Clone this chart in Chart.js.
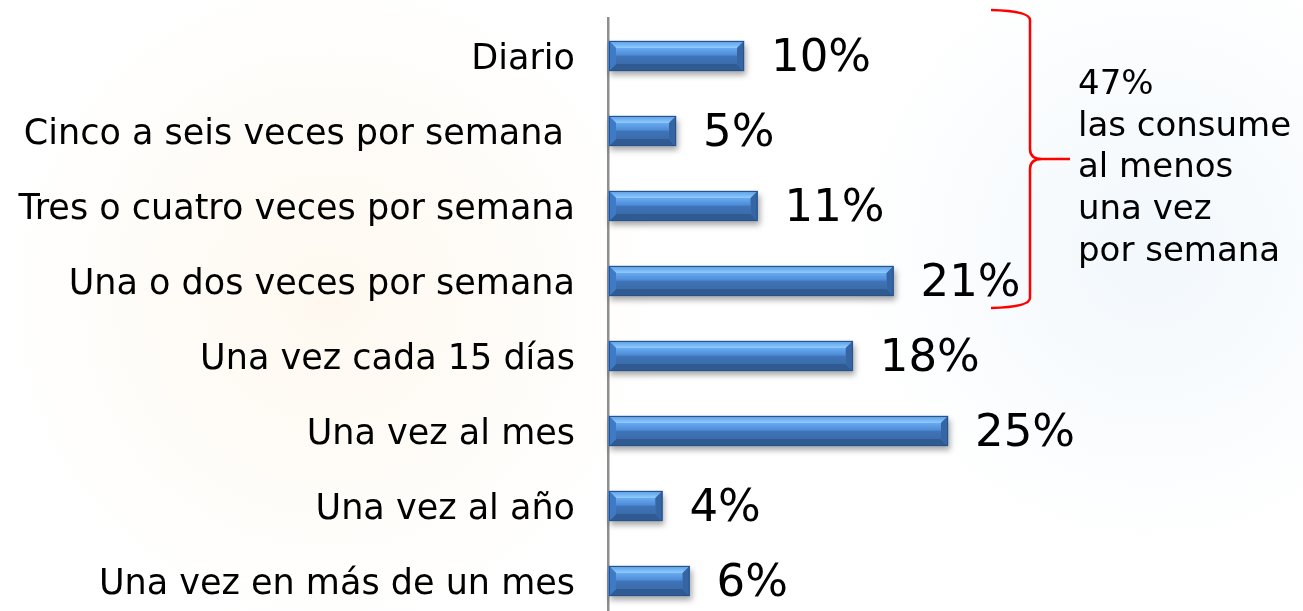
<!DOCTYPE html>
<html lang="es">
<head>
<meta charset="utf-8">
<title>Frecuencia de consumo</title>
<script src="https://cdn.jsdelivr.net/npm/chart.js@4/dist/chart.umd.min.js"></script>
<style>
    html, body { margin: 0; padding: 0; overflow: hidden; }
    body {
        width: 1303px;
        height: 611px;
        background:
            radial-gradient(circle at 330px 300px, rgba(253, 240, 220, 0.45) 0, rgba(253, 240, 220, 0) 330px),
            radial-gradient(circle at 1150px 250px, rgba(225, 238, 248, 0.45) 0, rgba(225, 238, 248, 0) 300px),
            #ffffff;
    }
    #caja { width: 1303px; height: 620px; }
</style>
</head>
<body>
<div id="caja"><canvas id="graficoFrecuencia"></canvas></div>
<script>
// Datos del grafico
const categorias = [
    'Diario',
    'Cinco a seis veces por semana ',
    'Tres o cuatro veces por semana',
    'Una o dos veces por semana',
    'Una vez cada 15 días',
    'Una vez al mes',
    'Una vez al año',
    'Una vez en más de un mes'
];
const porcentajes = [10, 5, 11, 21, 18, 25, 4, 6];
const notaLineas = ['47%', 'las consume', 'al menos', 'una vez', 'por semana'];

const FUENTE = '"DejaVu Sans", Verdana, sans-serif';

// Barras con efecto biselado
const biselBarras = {
    id: 'biselBarras',
    beforeDatasetsDraw(chart) {
        const ctx = chart.ctx;
        chart.getDatasetMeta(0).data.forEach(bar => {
            const p = bar.getProps(['x', 'y', 'base', 'height'], true);
            const t = p.y - p.height / 2;
            ctx.save();
            ctx.shadowColor = 'rgba(0,0,0,0.35)';
            ctx.shadowBlur = 6;
            ctx.shadowOffsetX = 2;
            ctx.shadowOffsetY = 4;
            ctx.fillStyle = '#3a6cb0';
            ctx.fillRect(p.base, t, p.x - p.base, p.height);
            ctx.restore();
        });
    },
    afterDatasetsDraw(chart) {
        const ctx = chart.ctx;
        chart.getDatasetMeta(0).data.forEach((bar, i) => {
            const p = bar.getProps(['x', 'y', 'base', 'height'], true);
            const L = p.base + 1, R = p.x, T = p.y - p.height / 2, B = p.y + p.height / 2;
            const d = 7;
            const poly = (pts, fill) => {
                ctx.beginPath();
                ctx.moveTo(pts[0][0], pts[0][1]);
                for (let k = 1; k < pts.length; k++) ctx.lineTo(pts[k][0], pts[k][1]);
                ctx.closePath();
                ctx.fillStyle = fill;
                ctx.fill();
            };
            ctx.save();
            // cara central
            const gCara = ctx.createLinearGradient(0, T + d, 0, B - d);
            gCara.addColorStop(0, '#68aaf0');
            gCara.addColorStop(0.45, '#4d8bd6');
            gCara.addColorStop(0.5, '#3f74b8');
            gCara.addColorStop(1, '#3b6cab');
            poly([[L + d, T + d], [R - d, T + d], [R - d, B - d], [L + d, B - d]], gCara);
            // bisel superior
            const gSup = ctx.createLinearGradient(0, T, 0, T + d);
            gSup.addColorStop(0, '#5a9de6');
            gSup.addColorStop(1, '#8fcbff');
            poly([[L, T], [R, T], [R - d, T + d], [L + d, T + d]], gSup);
            // bisel inferior
            poly([[L, B], [R, B], [R - d, B - d], [L + d, B - d]], '#2f5a92');
            // biseles laterales
            poly([[L, T], [L + d, T + d], [L + d, B - d], [L, B]], '#3f7ac6');
            poly([[R, T], [R - d, T + d], [R - d, B - d], [R, B]], '#3665a4');
            // contorno
            ctx.strokeStyle = '#2b5185';
            ctx.lineWidth = 1;
            ctx.strokeRect(L + 0.5, T + 0.5, R - L - 1, B - T - 1);
            // etiqueta de valor
            ctx.fillStyle = '#000000';
            ctx.font = '45px ' + FUENTE;
            ctx.textAlign = 'left';
            ctx.textBaseline = 'middle';
            ctx.fillText(porcentajes[i] + '%', R + 27, p.y + 3);
            ctx.restore();
        });
    }
};

// Llave roja y nota lateral
const notaLlave = {
    id: 'notaLlave',
    afterDraw(chart) {
        const ctx = chart.ctx;
        const y = chart.scales.y;
        const yTop = y.getPixelForValue(0) - 46;
        const yBot = y.getPixelForValue(3) + 27;
        const yMid = (yTop + yBot) / 2;
        const xL = 991, xV = 1030, xTip = 1070;
        ctx.save();
        ctx.strokeStyle = '#ff0000';
        ctx.lineWidth = 2.5;
        ctx.lineJoin = 'round';
        ctx.beginPath();
        ctx.moveTo(xL, yTop);
        ctx.quadraticCurveTo(xV, yTop + 1, xV, yTop + 10);
        ctx.lineTo(xV, yMid - 10);
        ctx.quadraticCurveTo(xV, yMid, xV + 12, yMid);
        ctx.lineTo(xTip, yMid);
        ctx.moveTo(xV + 12, yMid);
        ctx.quadraticCurveTo(xV, yMid, xV, yMid + 10);
        ctx.lineTo(xV, yBot - 10);
        ctx.quadraticCurveTo(xV, yBot - 1, xL, yBot);
        ctx.stroke();

        ctx.fillStyle = '#000000';
        ctx.font = '34px ' + FUENTE;
        ctx.textAlign = 'left';
        ctx.textBaseline = 'middle';
        notaLineas.forEach((linea, i) => {
            ctx.fillText(linea, 1078, 85 + i * 41.7);
        });
        ctx.restore();
    }
};

function crearGrafico() {
    const canvas = document.getElementById('graficoFrecuencia');
    const ctx = canvas.getContext('2d');

    new Chart(ctx, {
        type: 'bar',
        data: {
            labels: categorias,
            datasets: [{
                data: porcentajes,
                backgroundColor: '#4a86d2',
                borderWidth: 0,
                barThickness: 30
            }]
        },
        options: {
            indexAxis: 'y',
            responsive: true,
            maintainAspectRatio: false,
            animation: false,
            layout: { padding: { top: 18.5, bottom: 1.5, left: 0, right: 15 } },
            plugins: {
                legend: { display: false },
                tooltip: { enabled: false }
            },
            scales: {
                x: {
                    display: false,
                    min: 0,
                    max: 50
                },
                y: {
                    afterFit(scale) {
                        scale.width = 608;
                        scale.paddingTop = 0;
                        scale.paddingBottom = 0;
                    },
                    grid: { display: false, drawTicks: false },
                    border: { display: true, color: '#8e8e8e', width: 2.5 },
                    ticks: {
                        color: '#000000',
                        padding: 33,
                        labelOffset: 4,
                        font: { family: FUENTE, size: 35 }
                    }
                }
            }
        },
        plugins: [biselBarras, notaLlave]
    });
}

crearGrafico();
</script>
</body>
</html>
